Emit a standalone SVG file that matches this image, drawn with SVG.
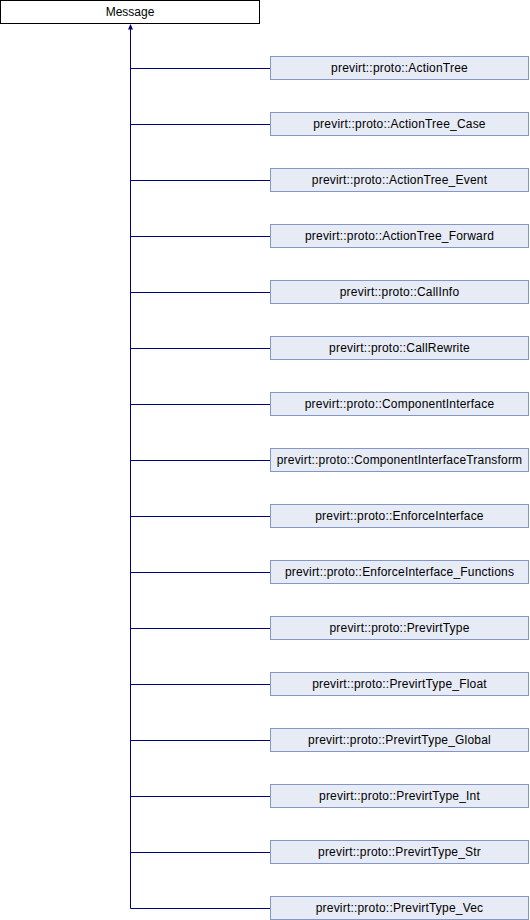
<svg xmlns="http://www.w3.org/2000/svg" width="530" height="920" viewBox="0 0 530 920">
<style>
.b{fill:#E6EBF5;stroke:#8396C6;stroke-width:1}
.m{fill:#FFFFFF;stroke:#000000;stroke-width:1}
.t{font-family:"Liberation Sans",Arial,sans-serif;font-size:12px;fill:#000000;text-anchor:middle}
.s{letter-spacing:0.2px}
.c{fill:none;stroke:#000080;stroke-width:1}
</style>
<rect width="530" height="920" fill="#FFFFFF"/>
<g id="connectors">
<path class="c" d="M130.5,908.5 L130.5,25"/>
<path d="M128,29.5 L130.5,24 L133,29.5 Z" fill="#000080"/>
<path class="c" d="M130.5,68.5H270M130.5,124.5H270M130.5,180.5H270M130.5,236.5H270M130.5,292.5H270M130.5,348.5H270M130.5,404.5H270M130.5,460.5H270M130.5,516.5H270M130.5,572.5H270M130.5,628.5H270M130.5,684.5H270M130.5,740.5H270M130.5,796.5H270M130.5,852.5H270M130.5,908.5H270"/>
</g>
<g id="Message"><rect class="m" x="0.5" y="0.5" width="259" height="23"/><text class="t" x="130" y="16">Message</text></g>
<g id="n1"><rect class="b" x="270.5" y="56.5" width="258" height="23"/><text class="t s" x="399.5" y="71.5">previrt::proto::ActionTree</text></g>
<g id="n2"><rect class="b" x="270.5" y="112.5" width="258" height="23"/><text class="t s" x="399.5" y="127.5">previrt::proto::ActionTree_Case</text></g>
<g id="n3"><rect class="b" x="270.5" y="168.5" width="258" height="23"/><text class="t s" x="399.5" y="183.5">previrt::proto::ActionTree_Event</text></g>
<g id="n4"><rect class="b" x="270.5" y="224.5" width="258" height="23"/><text class="t s" x="399.5" y="239.5">previrt::proto::ActionTree_Forward</text></g>
<g id="n5"><rect class="b" x="270.5" y="280.5" width="258" height="23"/><text class="t s" x="399.5" y="295.5">previrt::proto::CallInfo</text></g>
<g id="n6"><rect class="b" x="270.5" y="336.5" width="258" height="23"/><text class="t s" x="399.5" y="351.5">previrt::proto::CallRewrite</text></g>
<g id="n7"><rect class="b" x="270.5" y="392.5" width="258" height="23"/><text class="t s" x="399.5" y="407.5">previrt::proto::ComponentInterface</text></g>
<g id="n8"><rect class="b" x="270.5" y="448.5" width="258" height="23"/><text class="t s" x="399.5" y="463.5">previrt::proto::ComponentInterfaceTransform</text></g>
<g id="n9"><rect class="b" x="270.5" y="504.5" width="258" height="23"/><text class="t s" x="399.5" y="519.5">previrt::proto::EnforceInterface</text></g>
<g id="n10"><rect class="b" x="270.5" y="560.5" width="258" height="23"/><text class="t s" x="399.5" y="575.5">previrt::proto::EnforceInterface_Functions</text></g>
<g id="n11"><rect class="b" x="270.5" y="616.5" width="258" height="23"/><text class="t s" x="399.5" y="631.5">previrt::proto::PrevirtType</text></g>
<g id="n12"><rect class="b" x="270.5" y="672.5" width="258" height="23"/><text class="t s" x="399.5" y="687.5">previrt::proto::PrevirtType_Float</text></g>
<g id="n13"><rect class="b" x="270.5" y="728.5" width="258" height="23"/><text class="t s" x="399.5" y="743.5">previrt::proto::PrevirtType_Global</text></g>
<g id="n14"><rect class="b" x="270.5" y="784.5" width="258" height="23"/><text class="t s" x="399.5" y="799.5">previrt::proto::PrevirtType_Int</text></g>
<g id="n15"><rect class="b" x="270.5" y="840.5" width="258" height="23"/><text class="t s" x="399.5" y="855.5">previrt::proto::PrevirtType_Str</text></g>
<g id="n16"><rect class="b" x="270.5" y="896.5" width="258" height="23"/><text class="t s" x="399.5" y="911.5">previrt::proto::PrevirtType_Vec</text></g>
</svg>
